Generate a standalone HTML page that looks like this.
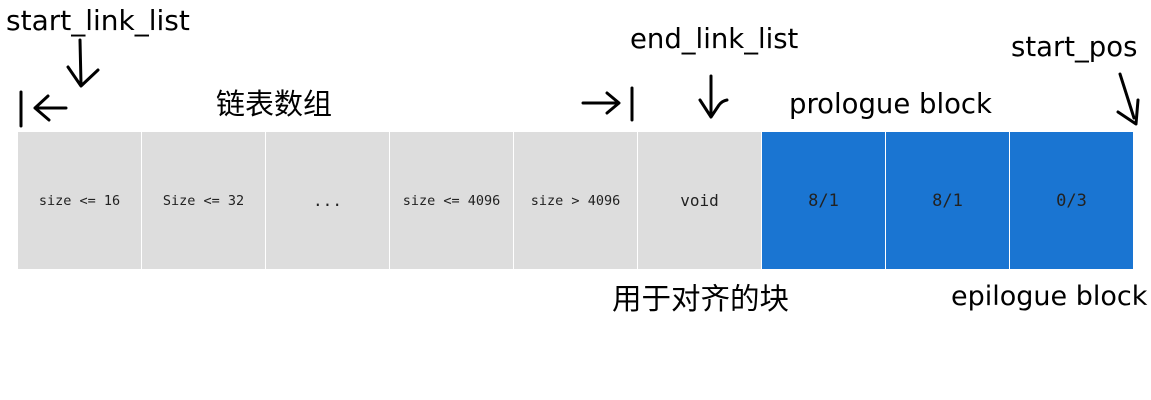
<!DOCTYPE html>
<html><head><meta charset="utf-8"><style>
body{margin:0;width:1151px;height:400px;background:#fff;position:relative;overflow:hidden;font-family:"DejaVu Sans","Noto Sans CJK SC",sans-serif;}
.c{position:absolute;top:132px;height:137px;width:123px;background:#dddddd;display:flex;align-items:center;justify-content:center;font-family:"DejaVu Sans Mono","Liberation Mono",monospace;font-size:13.5px;color:#222;}
.b{background:#1a75d2;font-size:17px;color:#222;}
.t{position:absolute;font-size:27px;color:#000;white-space:nowrap;line-height:1;}
</style></head><body>
<div class="c" style="left:18px">size &lt;= 16</div>
<div class="c" style="left:142px">Size &lt;= 32</div>
<div class="c" style="left:266px;font-size:16px">...</div>
<div class="c" style="left:390px">size &lt;= 4096</div>
<div class="c" style="left:514px">size &gt; 4096</div>
<div class="c" style="left:638px;font-size:16px">void</div>
<div class="c b" style="left:762px">8/1</div>
<div class="c b" style="left:886px">8/1</div>
<div class="c b" style="left:1010px">0/3</div>
<div class="t" style="left:6px;top:7px;font-size:28px">start_link_list</div>
<div class="t" style="left:216px;top:88px;font-size:29px;font-family:'Noto Sans CJK SC',sans-serif">链表数组</div>
<div class="t" style="left:630px;top:26px;font-size:27.5px">end_link_list</div>
<div class="t" style="left:1011px;top:34px;font-size:27.5px">start_pos</div>
<div class="t" style="left:789px;top:91px;font-size:27.5px">prologue block</div>
<div class="t" style="left:612px;top:283px;font-size:29.5px;font-family:'Noto Sans CJK SC',sans-serif">用于对齐的块</div>
<div class="t" style="left:951px;top:283px;font-size:27px">epilogue block</div>
<svg width="1151" height="400" style="position:absolute;left:0;top:0" fill="none" stroke="#000" stroke-width="3" stroke-linecap="round" stroke-linejoin="round">
<path d="M80 40 L81 84 M68 67 L81 86 L98 70"/>
<path d="M21 92 L21 126 M66 108 L35 108 M48 96 L35 108 L49 120"/>
<path d="M583 103 L618 103 M607 93 L619 103 L607 113 M632 88 L632 120"/>
<path d="M711 76 L711 117 M700 100 L711 117 L719 105 Q722 101 727 100"/>
<path d="M1120 74 L1134 118 M1138 100 L1136 124 L1118 112"/>
</svg>
</body></html>
